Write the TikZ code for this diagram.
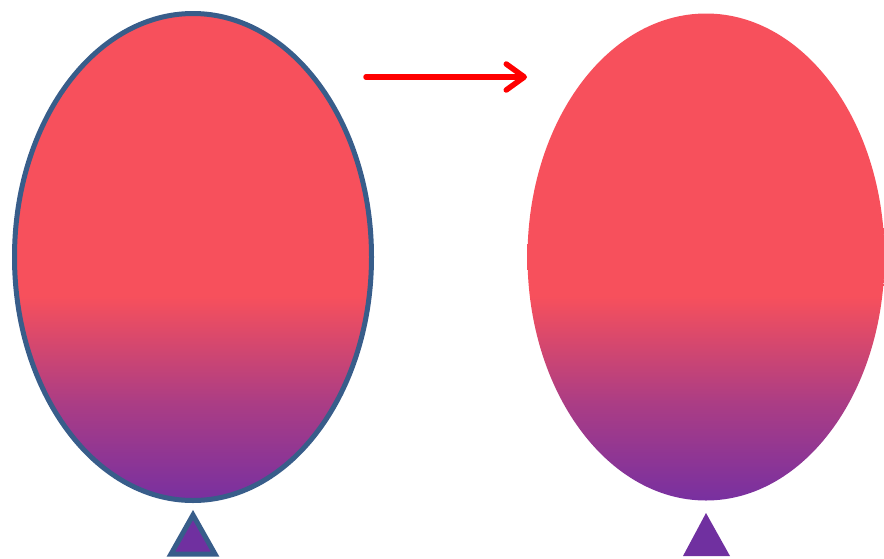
\documentclass[tikz,border=0pt]{standalone}
\usetikzlibrary{shapes.geometric,arrows.meta}
\definecolor{balred}{RGB}{247,80,92}
\definecolor{balpurple}{RGB}{120,48,160}
\definecolor{trifill}{RGB}{112,48,160}
\definecolor{outline}{RGB}{56,93,138}
\pgfdeclareverticalshading{balloonshade}{100bp}{color(0bp)=(balpurple); color(25bp)=(balpurple); color(35bp)=(balpurple!60!balred); color(46bp)=(balred); color(100bp)=(balred)}
\tikzset{
  balloon/.style={ellipse, inner sep=0pt, minimum width=357pt, minimum height=487pt, shading=balloonshade},
  knot/.style={fill=trifill},
  flow/.style={red, line width=5.5pt, line cap=round, -{Straight Barb[length=18pt,width=26pt,round]}}
}
\begin{document}
\begin{tikzpicture}[x=1pt,y=-1pt]
\useasboundingbox (0,0) rectangle (884,558);
\node[balloon, draw=outline, line width=5pt] (b1) at (193,257) {};
\node[balloon] (b2) at (706,257) {};
\draw[knot, draw=outline, line width=5pt, line join=miter] (193,515) -- (215,554) -- (171,554) -- cycle;
\fill[knot] (706,513) -- (730,556) -- (683,556) -- cycle;
\coordinate (a1) at (366,77);
\coordinate (a2) at (527,77);
\draw[flow] (a1) -- (a2);
\end{tikzpicture}
\end{document}
